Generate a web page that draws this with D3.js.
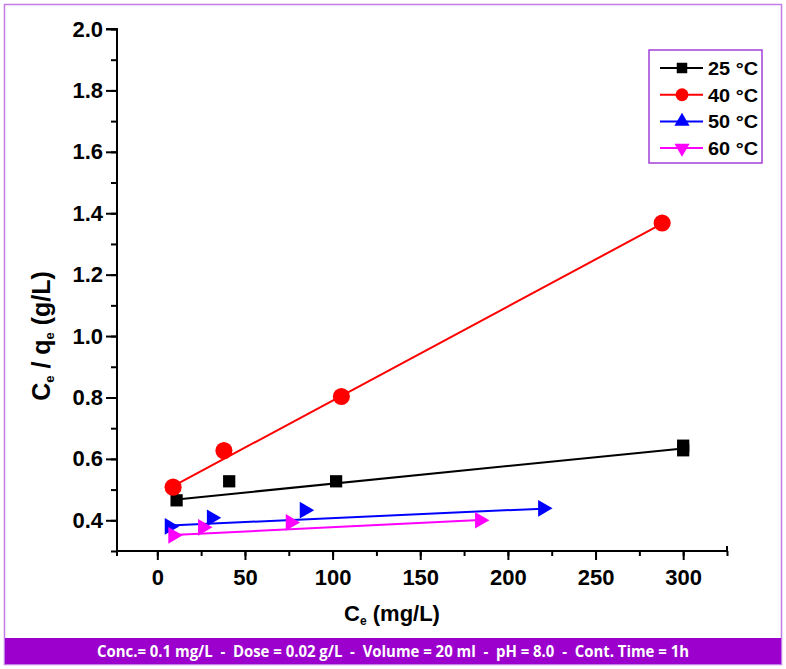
<!DOCTYPE html>
<html><head><meta charset="utf-8">
<script src="https://cdn.jsdelivr.net/npm/d3@7/dist/d3.min.js"></script>
<style>body{margin:0;background:#fff}svg{display:block}</style>
</head><body>
<script>
const seriesNames = ["25 °C", "40 °C", "50 °C", "60 °C"];
const seriesColors = ["#000000", "#ff0000", "#0000ff", "#ff00ff"];
const x25 = [11, 41, 102, 300, 300];
const y25 = [0.465, 0.527, 0.527, 0.643, 0.628];
const x40 = [9, 38, 105, 288];
const y40 = [0.508, 0.627, 0.803, 1.368];
const x50 = [7, 31, 84, 220];
const y50 = [0.380, 0.408, 0.433, 0.439];
const x60 = [9, 26, 76, 184];
const y60 = [0.351, 0.377, 0.393, 0.400];
// linear fit lines: [xStart, xEnd], [yStart, yEnd]
const fitX = [[11, 300], [8, 288], [7, 220], [9, 184]];
const fitY = [[0.468, 0.634], [0.508, 1.366], [0.383, 0.438], [0.352, 0.401]];
const xTicks = [0, 50, 100, 150, 200, 250, 300];
const yTicks = [0.4, 0.6, 0.8, 1.0, 1.2, 1.4, 1.6, 1.8, 2.0];
const footer = "Conc.= 0.1 mg/L  -  Dose = 0.02 g/L  -  Volume = 20 ml  -  pH = 8.0  -  Cont. Time = 1h";

const W = 786, H = 669;
const svg = d3.select("body").append("svg").attr("width", W).attr("height", H);
const purple = "#9b00cc";
svg.append("rect").attr("x", 4.5).attr("y", 4.5).attr("width", W - 9).attr("height", H - 9)
  .attr("fill", "#fff").attr("stroke", "#c27ee6").attr("stroke-width", 1.5);
svg.append("rect").attr("x", 5).attr("y", 638).attr("width", W - 10).attr("height", 26).attr("fill", purple);
svg.append("text").attr("x", 393).attr("y", 656.5).attr("text-anchor", "middle")
  .attr("fill", "#fff").attr("font-family", "'Liberation Sans Narrow','Open Sans',sans-serif")
  .attr("font-weight", "bold").attr("font-size", 16).attr("textLength", 592).attr("lengthAdjust", "spacingAndGlyphs")
  .style("white-space", "pre").text(footer);

const L = 117, R = 727, T = 29, B = 551;
const x = d3.scaleLinear().domain([-23, 325]).range([L, R]);
const y = d3.scaleLinear().domain([0.3, 2.0]).range([B, T]);

const font = "'Liberation Sans', Arial, sans-serif";
// axes
const gx = svg.append("g").attr("transform", `translate(0,${B})`);
gx.call(d3.axisBottom(x).tickValues(d3.range(0, 326, 25)).tickSize(5).tickFormat(""));
gx.append("g").call(d3.axisBottom(x).tickValues(xTicks).tickSize(9).tickFormat(d3.format("d")));
gx.selectAll("path.domain").attr("d", `M${L},5V0H${R}V-5`).attr("stroke-width", 2);
gx.selectAll("line").attr("stroke-width", 2);
gx.selectAll("text").attr("font-family", font).attr("font-weight", "bold").attr("font-size", 22).attr("fill", "#000").attr("dy", "1.0em");

const gy = svg.append("g").attr("transform", `translate(${L},0)`);
gy.call(d3.axisLeft(y).tickValues(d3.range(0.3, 2.001, 0.1)).tickSize(6).tickFormat(""));
gy.append("g").call(d3.axisLeft(y).tickValues(yTicks).tickSize(11).tickFormat(d3.format(".1f")));
gy.selectAll("path.domain").attr("d", `M-11,${T}H0V${B + 5}`).attr("stroke-width", 2);
gy.selectAll("line").attr("stroke-width", 2);
gy.selectAll("text").attr("font-family", font).attr("font-weight", "bold").attr("font-size", 22).attr("fill", "#000").attr("x", -14);

// axis titles
const yt = svg.append("text").attr("transform", `translate(50,336) rotate(-90)`).attr("text-anchor", "middle")
  .attr("font-family", font).attr("font-weight", "bold").attr("font-size", 25);
yt.append("tspan").text("C");
yt.append("tspan").attr("font-size", 13).attr("dy", 4).text("e");
yt.append("tspan").attr("dy", -4).text(" / q");
yt.append("tspan").attr("font-size", 13).attr("dy", 4).text("e");
yt.append("tspan").attr("dy", -4).text(" (g/L)");
const xt = svg.append("text").attr("x", 392).attr("y", 621).attr("text-anchor", "middle")
  .attr("font-family", font).attr("font-weight", "bold").attr("font-size", 22);
xt.append("tspan").text("C");
xt.append("tspan").attr("font-size", 12).attr("dy", 4).text("e");
xt.append("tspan").attr("dy", -4).text(" (mg/L)");

// data
const xs = [x25, x40, x50, x60], ys = [y25, y40, y50, y60];
const plot = svg.append("g");
const shapes = [
  {t: d3.symbolSquare, s: 150, r: 0},
  {t: d3.symbolCircle, s: 230, r: 0},
  {t: d3.symbolTriangle, s: 120, r: 90},
  {t: d3.symbolTriangle, s: 120, r: 90}
];
const legendShapes = [
  {t: d3.symbolSquare, s: 110, r: 0},
  {t: d3.symbolCircle, s: 130, r: 0},
  {t: d3.symbolTriangle, s: 100, r: 0},
  {t: d3.symbolTriangle, s: 100, r: 180}
];
const line = d3.line().x(d => x(d[0])).y(d => y(d[1]));
seriesNames.forEach((n, i) => {
  plot.append("path").attr("d", line(d3.zip(fitX[i], fitY[i]))).attr("stroke", seriesColors[i])
    .attr("stroke-width", 2).attr("fill", "none");
});
seriesNames.forEach((n, i) => {
  plot.append("g").selectAll("path").data(d3.zip(xs[i], ys[i])).join("path")
    .attr("d", d3.symbol().type(shapes[i].t).size(shapes[i].s))
    .attr("transform", d => `translate(${x(d[0])},${y(d[1])}) rotate(${shapes[i].r})`)
    .attr("fill", seriesColors[i]);
});

// legend
const lg = svg.append("g");
lg.append("rect").attr("x", 649).attr("y", 50).attr("width", 113).attr("height", 113)
  .attr("fill", "#fff").attr("stroke", "#a040d8").attr("stroke-width", 1.5);
seriesNames.forEach((n, i) => {
  const yy = 68 + i * 26.7;
  lg.append("line").attr("x1", 660).attr("x2", 703).attr("y1", yy).attr("y2", yy)
    .attr("stroke", seriesColors[i]).attr("stroke-width", 2);
  lg.append("path").attr("d", d3.symbol().type(legendShapes[i].t).size(legendShapes[i].s))
    .attr("transform", `translate(682,${yy}) rotate(${legendShapes[i].r})`).attr("fill", seriesColors[i]);
  lg.append("text").attr("x", 708).attr("y", yy + 7).attr("font-family", font).attr("font-weight", "bold")
    .attr("font-size", 19).attr("textLength", 50).attr("lengthAdjust", "spacingAndGlyphs").text(n);
});
</script>
</body></html>
